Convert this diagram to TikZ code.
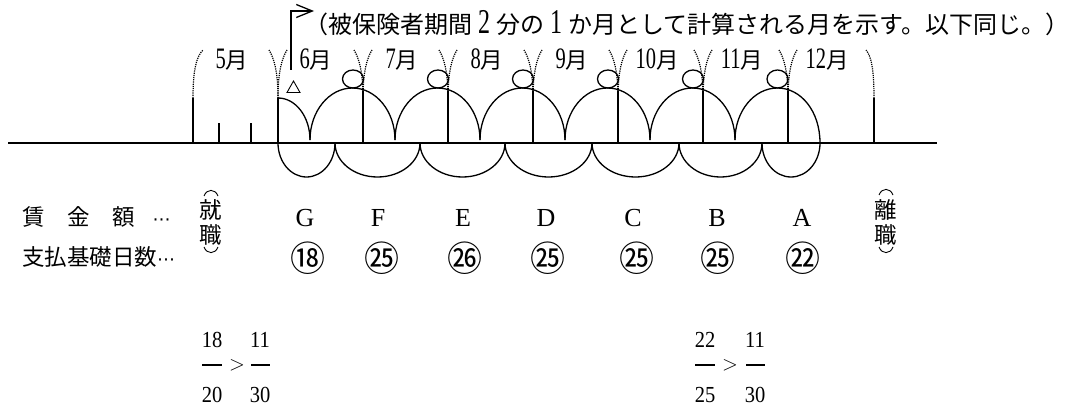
\documentclass[tikz,border=0pt]{standalone}
\usepackage{fontspec}
\usepackage{graphicx}
\setmainfont{Liberation Serif}
\newfontfamily\jp{Noto Sans CJK JP}
\newfontfamily\symf{DejaVu Sans}
\usetikzlibrary{arrows.meta}
\newcommand\tallnum[1]{\scalebox{1}[1.45]{#1}}
\newcommand\fracnum[1]{\scalebox{1}[1.12]{#1}}
\newcommand\jpm{\jp\fontsize{22.5}{24}\selectfont 月}
\begin{document}
\begin{tikzpicture}[x=1pt,y=-1pt,
  heavy/.style={line width=1.8pt},
  arcline/.style={line width=1.3pt},
  dots/.style={line width=1.2pt, densely dotted},
  thinline/.style={line width=0.9pt},
  lbl/.style={inner sep=0pt, font=\fontsize{22.5}{24}\selectfont},
  mon/.style={inner sep=0pt, font=\fontsize{20.5}{24}\selectfont},
  letter/.style={inner sep=0pt, font=\fontsize{26}{28}\selectfont},
  circnum/.style={inner sep=0pt, font=\jp\fontsize{35}{36}\selectfont},
  frac/.style={inner sep=0pt, font=\fontsize{20.5}{24}\selectfont}]
\useasboundingbox (0,0) rectangle (1071,412);

% base line
\coordinate (L) at (8,143);
\coordinate (R) at (937,143);
\draw[heavy] (L) -- (R);

% vertical month boundaries
\foreach \x in {193,278,874} \draw[heavy] (\x,98) -- (\x,143);
\foreach \x in {363,448,533,618,703,788} \draw[heavy] (\x,91) -- (\x,143);
\foreach \x in {219,251} \draw[heavy] (\x,123) -- (\x,143);

% dotted brackets
\draw[dots] (193,98) .. controls (193,68) and (197,56) .. (203,50);
\draw[dots] (874,98) .. controls (874,68) and (871,56) .. (866,50);
\foreach \x in {278,363,448,533,618,703,788} {
  \draw[dots] (\x,98) .. controls (\x,72) and (\x-4,58) .. (\x-9,50);
  \draw[dots] (\x,98) .. controls (\x,72) and (\x+4,58) .. (\x+9,50);
}

% upper arches
\draw[arcline] (278,98) .. controls (295.7,98) and (310,116.8) .. (310,140);
\foreach \c in {352.5,437.5,522.5,607.5,692.5} {
  \draw[arcline] (\c-42.5,140) .. controls (\c-42.5,111.3) and (\c-23.5,88) .. (\c,88)
     .. controls (\c+23.5,88) and (\c+42.5,111.3) .. (\c+42.5,140);
}
\draw[arcline] (735,140) .. controls (735,111.3) and (754,88) .. (777.5,88)
     .. controls (801,88) and (820,111.3) .. (820,143)
     .. controls (820,161.8) and (807,177) .. (791,177)
     .. controls (775,177) and (762,161.8) .. (762,143);

% lower arcs
\foreach \a/\b in {278/335,335/420,420/505,505/592,592/679,679/762} {
  \pgfmathsetmacro\m{(\a+\b)/2}
  \pgfmathsetmacro\k{0.5523*(\b-\a)/2}
  \draw[arcline] (\a,143) .. controls (\a,161.8) and (\m-\k,177) .. (\m,177)
     .. controls (\m+\k,177) and (\b,161.8) .. (\b,143);
}

% circles on arch tops
\foreach \c in {353,438,523,608,693,777.5} \draw[arcline] (\c,79) ellipse [x radius=10.5, y radius=9];

% triangle
\draw[thinline] (287,92.5) -- (300,92.5) -- (293.5,81) -- cycle;

% pointer arrow
\coordinate (arrS) at (291,70);
\coordinate (arrE) at (314,11);
\draw[line width=1.5pt, -{Straight Barb[length=16pt,width=13pt,line width=1.3pt]}] (arrS) |- (arrE);

% note
\node[inner sep=0pt, anchor=west, font=\fontsize{24}{26}\selectfont] (note) at (304,23)
  {{\jp （被保険者期間} \tallnum{2} {\jp 分の} \tallnum{1} {\jp か月として計算される月を示す。以下同じ。）}};

% month labels
\node[mon] (m5) at (232,60) {\tallnum{5}\jpm};
\node[mon] (m6) at (316,60) {\tallnum{6}\jpm};
\node[mon] (m7) at (402,60) {\tallnum{7}\jpm};
\node[mon] (m8) at (487,60) {\tallnum{8}\jpm};
\node[mon] (m9) at (572,60) {\tallnum{9}\jpm};
\node[mon] (m10) at (657,60) {\tallnum{10}\jpm};
\node[mon] (m11) at (742,60) {\tallnum{11}\jpm};
\node[mon] (m12) at (827,60) {\tallnum{12}\jpm};

% row headings
\node[lbl, anchor=west] (wage) at (22,217) {\jp 賃　金　額\hspace{0.8em}{\symf\fontsize{18}{20}\selectfont ⋯}};
\node[lbl, anchor=west] (days) at (22,257) {\jp 支払基礎日数{\symf\fontsize{18}{20}\selectfont ⋯}};

% 就職 / 離職 (vertical)
\node[lbl] (shu) at (211,210) {\jp 就};
\node[lbl] (shoku1) at (211,235) {\jp 職};
\draw[thinline] (204,196) .. controls (207,188.5) and (215,188.5) .. (218,196);
\draw[thinline] (204,247) .. controls (207,254.5) and (215,254.5) .. (218,247);
\node[lbl] (ri) at (886,210) {\jp 離};
\node[lbl] (shoku2) at (886,235) {\jp 職};
\draw[thinline] (879,195) .. controls (882,187.5) and (890,187.5) .. (893,195);
\draw[thinline] (879,247) .. controls (882,254.5) and (890,254.5) .. (893,247);

% wage letters
\foreach \x/\t/\n in {305/G/lG,378/F/lF,463/E/lE,546/D/lD,633/C/lC,717/B/lB,802/A/lA}
  \node[letter] (\n) at (\x,218) {\t};

% circled day counts
\foreach \x/\t/\n in {308/⑱/d1,382/㉕/d2,465/㉖/d3,548/㉕/d4,637/㉕/d5,718/㉕/d6,803/㉒/d7}
  \node[circnum] (\n) at (\x,258) {\t};

% fractions
\node[frac] (n1) at (212,340) {\fracnum{18}};
\node[frac] (n2) at (260,340) {\fracnum{11}};
\node[frac, font=\fontsize{21}{24}\selectfont] (g1) at (237,365) {$>$};
\node[frac] (d1a) at (212,395) {\fracnum{20}};
\node[frac] (d2a) at (260,395) {\fracnum{30}};
\draw[line width=1.5pt] (202,365) -- (222,365);
\draw[line width=1.5pt] (251,365) -- (270,365);

\node[frac] (n3) at (705,340) {\fracnum{22}};
\node[frac] (n4) at (755,340) {\fracnum{11}};
\node[frac, font=\fontsize{21}{24}\selectfont] (g2) at (730,365) {$>$};
\node[frac] (d3a) at (705,395) {\fracnum{25}};
\node[frac] (d4a) at (755,395) {\fracnum{30}};
\draw[line width=1.5pt] (695,365) -- (715,365);
\draw[line width=1.5pt] (746,365) -- (765,365);
\end{tikzpicture}
\end{document}
